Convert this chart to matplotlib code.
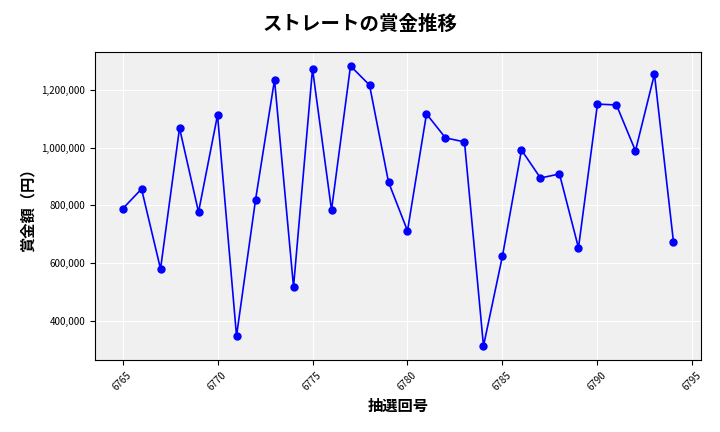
import matplotlib
matplotlib.use("Agg")
import matplotlib.pyplot as plt
from matplotlib.ticker import FuncFormatter

plt.rcParams['font.family'] = ['Noto Sans CJK JP', 'DejaVu Sans']

draws = list(range(6765, 6795))
prizes = [788000, 857000, 580000, 1068000, 777000, 1113000, 348000, 819000, 1235000, 518000,
          1273000, 784000, 1283000, 1217000, 881000, 712000, 1117000, 1034000, 1020000, 313000,
          625000, 992000, 895000, 909000, 653000, 1151000, 1148000, 989000, 1255000, 674000]

fig = plt.figure(figsize=(7.2, 4.32), dpi=100)
ax = fig.add_axes([95/720, 1-360/432, 606/720, 308/432])
ax.set_facecolor('#f0f0f0')
ax.grid(True, color='white', linewidth=0.8)
ax.set_axisbelow(True)
ax.plot(draws, prizes, color='blue', marker='o', markersize=5, linewidth=1.2)
ax.yaxis.set_major_formatter(FuncFormatter(lambda v, p: f"{int(v):,}"))
ax.tick_params(axis='x', labelrotation=45, labelsize=7)
ax.tick_params(axis='y', labelsize=7)
ax.set_xlabel('抽選回号', fontsize=11, fontweight='bold')
ax.set_ylabel('賞金額（円）', fontsize=11, fontweight='bold')
fig.suptitle('ストレートの賞金推移', fontsize=14, fontweight='bold', y=0.965)
fig.savefig('out.png', dpi=100)
